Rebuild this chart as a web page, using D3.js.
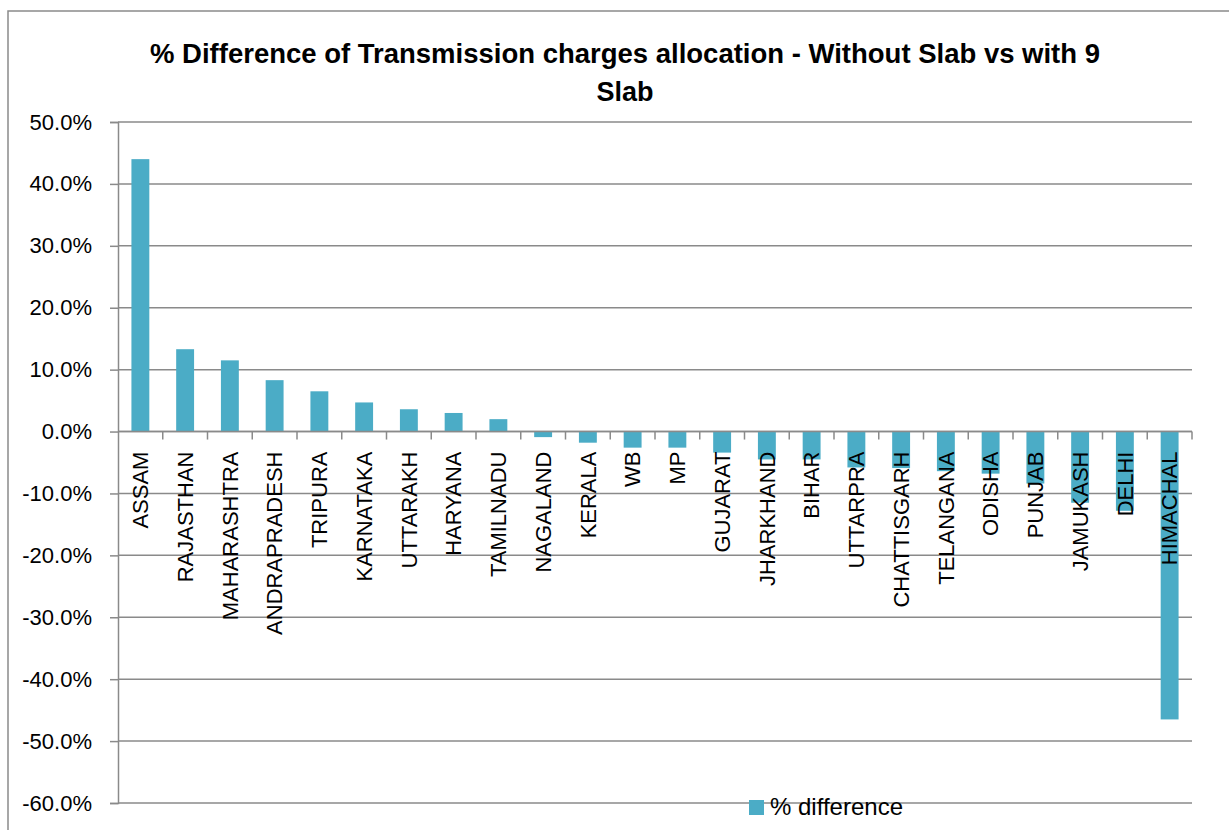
<!DOCTYPE html>
<html>
<head>
<meta charset="utf-8">
<script src="https://cdn.jsdelivr.net/npm/d3@7"></script>
<style>
  body { margin: 0; background: #fff; }
  svg { display: block; }
  text { font-family: "Liberation Sans", Arial, sans-serif; fill: #000; }
</style>
</head>
<body>
<svg id="chart" width="1229" height="830"></svg>
<script>
// chart data
var states = ["ASSAM", "RAJASTHAN", "MAHARASHTRA", "ANDRAPRADESH", "TRIPURA", "KARNATAKA",
  "UTTARAKH", "HARYANA", "TAMILNADU", "NAGALAND", "KERALA", "WB", "MP", "GUJARAT",
  "JHARKHAND", "BIHAR", "UTTARPRA", "CHATTISGARH", "TELANGANA", "ODISHA", "PUNJAB",
  "JAMUKASH", "DELHI", "HIMACHAL"];
var pctDiff = [44.0, 13.3, 11.5, 8.3, 6.5, 4.7, 3.6, 3.0, 2.0, -0.9, -1.8, -2.6, -2.6, -3.4,
  -4.5, -4.5, -5.8, -5.9, -6.4, -6.8, -8.4, -11.5, -12.8, -46.5];
var yTicks = [50, 40, 30, 20, 10, 0, -10, -20, -30, -40, -50, -60];
var seriesName = "% difference";
var titleLines = ["% Difference of Transmission charges allocation - Without Slab vs with 9", "Slab"];

var svg = d3.select("#chart");
var barColor = "#4bacc6", lineColor = "#8a8a8a";

// plot area edges (note: "top" is taken by window.top)
var plotL = 118, plotR = 1192, plotT = 122, plotB = 803;

// outer frame
svg.append("rect")
  .attr("x", 8).attr("y", 11)
  .attr("width", 1240).attr("height", 840)
  .attr("fill", "none").attr("stroke", lineColor).attr("stroke-width", 1.5);

var x = d3.scaleBand().domain(states).range([plotL, plotR]).paddingInner(0).paddingOuter(0);
var y = d3.scaleLinear().domain([-60, 50]).range([plotB, plotT]);

// gridlines
svg.append("g").selectAll("line")
  .data(yTicks).enter().append("line")
  .attr("x1", plotL).attr("x2", plotR)
  .attr("y1", function(d) { return y(d); })
  .attr("y2", function(d) { return y(d); })
  .attr("stroke", lineColor).attr("stroke-width", 1.5);

// y axis
var yAxis = d3.axisLeft(y)
  .tickValues(yTicks)
  .tickSize(8)
  .tickPadding(18)
  .tickFormat(function(d) { return d.toFixed(1) + "%"; });
var gy = svg.append("g").attr("transform", "translate(" + plotL + ",0)").call(yAxis);
gy.select(".domain").attr("stroke", lineColor).attr("stroke-width", 1.5);
gy.selectAll(".tick line").attr("stroke", lineColor).attr("stroke-width", 1.5);
gy.selectAll(".tick text")
  .attr("font-family", "Liberation Sans, Arial, sans-serif")
  .attr("font-size", 22).attr("fill", "#000");

// bars
var bw = x.bandwidth() / 2.5;
svg.append("g").selectAll("rect")
  .data(states).enter().append("rect")
  .attr("x", function(d) { return x(d) + (x.bandwidth() - bw) / 2; })
  .attr("y", function(d, i) { return y(Math.max(0, pctDiff[i])); })
  .attr("width", bw)
  .attr("height", function(d, i) { return Math.abs(y(pctDiff[i]) - y(0)); })
  .attr("fill", barColor);

// category axis at zero, ticks between categories
svg.append("line")
  .attr("x1", plotL).attr("x2", plotR)
  .attr("y1", y(0)).attr("y2", y(0))
  .attr("stroke", lineColor).attr("stroke-width", 1.5);
svg.append("g").selectAll("line")
  .data(states).enter().append("line")
  .attr("x1", function(d) { return x(d) + x.step(); })
  .attr("x2", function(d) { return x(d) + x.step(); })
  .attr("y1", y(0)).attr("y2", y(0) + 8)
  .attr("stroke", lineColor).attr("stroke-width", 1.5);

// rotated category labels
svg.append("g").selectAll("text")
  .data(states).enter().append("text")
  .attr("transform", function(d) {
    return "translate(" + (x(d) + x.bandwidth() / 2) + "," + (y(0) + 20) + ") rotate(-90)";
  })
  .attr("text-anchor", "end")
  .attr("dy", "0.35em")
  .attr("font-size", 22)
  .text(function(d) { return d; });

// title
svg.append("g").selectAll("text")
  .data(titleLines).enter().append("text")
  .attr("x", 625)
  .attr("y", function(d, i) { return 63 + i * 38; })
  .attr("text-anchor", "middle")
  .attr("font-family", "DejaVu Sans Condensed, DejaVu Sans, sans-serif")
  .attr("font-weight", "bold")
  .attr("font-size", 27)
  .attr("textLength", function(d, i) { return i === 0 ? 950 : null; })
  .attr("lengthAdjust", "spacingAndGlyphs")
  .text(function(d) { return d; });

// legend
var lg = svg.append("g").attr("transform", "translate(749,800)");
lg.append("rect").attr("width", 15).attr("height", 15).attr("fill", barColor);
lg.append("text").attr("x", 21).attr("y", 15).attr("font-size", 24).text(seriesName);
</script>
</body>
</html>
